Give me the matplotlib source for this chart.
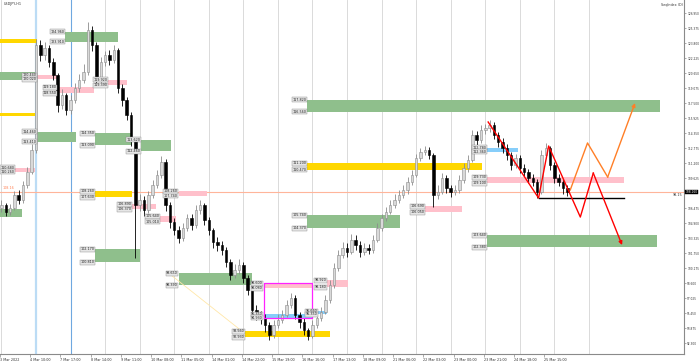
import matplotlib
matplotlib.use("Agg")
import matplotlib.pyplot as plt
from matplotlib.transforms import blended_transform_factory

# ---------------- data ----------------
title = "USDJPY,H1"
indicator_label = "SeqIndex (D)"

# one candle drawn per 3 hourly bars (bar index = 3*k + 1)
first_open = 106.50
close = [106.79, 106.05, 106.48, 107.84, 107.32, 108.89, 110.26, 112.57, 123.59, 122.54,
         123.28, 121.81, 120.44, 117.29, 118.34, 116.77, 117.82, 119.08, 119.92, 120.76,
         125.17, 123.59, 119.92, 121.81, 122.54, 122.02, 123.07, 119.08, 117.82, 116.24,
         113.62, 106.79, 107.32, 106.27, 107.84, 108.89, 109.94, 111.31, 106.79, 105.01,
         104.17, 103.33, 104.38, 105.43, 104.69, 106.27, 106.79, 105.22, 104.17, 102.91,
         102.59, 102.07, 100.81, 99.44, 99.97, 100.49, 99.13, 97.87, 95.77, 95.24,
         94.93, 94.19, 93.14, 94.19, 94.72, 95.24, 96.29, 97.03, 95.24, 94.50,
         93.67, 93.04, 94.19, 94.93, 95.56, 96.82, 98.39, 100.18, 101.54, 102.27,
         101.85, 103.12, 102.59, 101.85, 102.27, 102.07, 103.12, 104.38, 105.43, 106.05,
         106.79, 107.32, 107.84, 108.37, 109.21, 109.94, 111.73, 112.36, 112.57, 112.04,
         107.84, 108.16, 109.63, 108.58, 108.16, 108.37, 109.42, 110.68, 111.52, 114.14,
         113.62, 114.67, 114.88, 115.19, 114.14, 113.41, 112.78, 112.04, 111.00, 111.73,
         110.68, 110.26, 109.63, 109.21, 108.16, 112.04, 112.78, 111.00, 109.63, 109.21,
         108.58, 108.16]
high = [107.3, 107.0, 106.9, 108.3, 108.4, 109.3, 110.8, 113.2, 124.2, 124.1,
        123.9, 123.6, 122.2, 120.7, 119.0, 118.6, 118.3, 119.6, 120.5, 121.6,
        126.0, 125.6, 123.9, 122.3, 123.0, 123.1, 123.6, 123.3, 119.5, 118.1,
        116.6, 113.9, 107.9, 107.7, 108.3, 109.4, 110.5, 111.9, 111.6, 107.1,
        105.4, 104.6, 104.9, 105.9, 105.8, 106.8, 107.3, 107.0, 105.5, 104.4,
        103.4, 103.0, 102.4, 101.1, 100.6, 101.1, 100.8, 99.4, 98.2, 96.3,
        95.7, 95.3, 94.5, 94.7, 95.3, 95.8, 96.8, 97.6, 97.3, 95.6,
        94.9, 93.9, 94.7, 95.4, 96.1, 97.3, 98.9, 100.7, 102.1, 102.9,
        102.8, 103.7, 103.6, 103.0, 102.8, 102.7, 103.6, 104.9, 105.9, 106.6,
        107.3, 107.9, 108.4, 108.9, 109.7, 110.5, 112.2, 112.8, 113.0, 112.9,
        112.3, 108.9, 110.2, 109.9, 108.9, 108.9, 109.9, 111.2, 112.0, 114.7,
        114.6, 115.2, 115.3, 115.7, 115.5, 114.5, 113.8, 113.2, 112.4, 112.2,
        112.0, 111.1, 110.6, 110.1, 109.5, 112.6, 113.3, 113.0, 111.3, 110.0,
        109.5, 108.9]
low = [106.1, 105.6, 105.7, 106.3, 106.9, 107.0, 108.6, 110.0, 112.3, 121.9,
       122.0, 121.3, 119.9, 116.6, 116.9, 116.2, 116.4, 117.5, 118.7, 119.6,
       120.4, 123.0, 119.3, 119.6, 121.4, 121.5, 121.7, 118.6, 117.2, 115.7,
       113.0, 101.2, 106.2, 105.6, 106.0, 107.5, 108.6, 109.6, 106.2, 104.4,
       103.6, 102.8, 103.0, 104.1, 104.2, 104.4, 105.9, 104.7, 103.6, 102.3,
       102.0, 101.5, 100.3, 98.9, 99.1, 99.6, 98.6, 97.3, 95.2, 94.7,
       94.3, 93.5, 92.6, 92.8, 93.9, 94.4, 95.0, 96.0, 94.8, 93.9,
       93.1, 92.6, 92.8, 93.9, 94.6, 95.3, 96.5, 98.1, 99.9, 101.2,
       101.3, 101.6, 102.1, 101.3, 101.5, 101.6, 101.8, 102.9, 104.1, 105.1,
       105.8, 106.5, 107.0, 107.5, 108.0, 108.9, 109.7, 111.4, 112.0, 111.6,
       106.6, 107.4, 107.9, 108.1, 107.6, 107.8, 108.1, 109.1, 110.3, 111.3,
       113.1, 113.3, 114.3, 114.5, 113.7, 112.9, 112.3, 111.5, 110.5, 110.7,
       110.2, 109.8, 109.1, 108.8, 107.5, 107.9, 111.7, 110.5, 109.1, 108.8,
       108.0, 107.7]

date_labels = ["3 Mar 2022", "4 Mar 10:00", "7 Mar 17:00", "8 Mar 14:00", "9 Mar 11:00",
               "10 Mar 08:00", "11 Mar 05:00", "14 Mar 01:00", "14 Mar 22:00", "15 Mar 19:00",
               "16 Mar 16:00", "17 Mar 13:00", "18 Mar 09:00", "21 Mar 06:00", "22 Mar 03:00",
               "23 Mar 00:00", "23 Mar 21:00", "24 Mar 18:00", "25 Mar 15:00"]

ytick_values = [92.300, 93.875, 95.450, 97.025, 98.600, 100.175, 101.750, 103.325,
                104.900, 106.475, 109.625, 111.200, 112.775, 114.350, 115.925,
                117.500, 119.075, 120.650, 122.225, 123.800, 125.375, 126.950]
current_price = 108.16

# zones: start bar, end bar, upper price, lower price, kind, labelled
zone_x0 = [0, 45, 0, 26, 40, 75, 0, 26, 66, 98, 66, 92, 111, 124, 66, 124, 183, 183,
           170, 221, 227, 213, 213, 213, 295, 338, 338, 338, 0, 7]
zone_x1 = [26, 82, 24, 40, 65, 88, 24, 53, 92, 119, 92, 108, 122, 144, 97, 175, 217, 217,
           229, 227, 242, 458, 335, 278, 321, 360, 433, 456, 15, 24]
zone_hi = [124.22, 124.96, 120.76, 120.44, 119.18, 119.92, 116.45, 114.46, 114.35, 113.62,
           108.26, 106.89, 105.64, 108.26, 102.17, 99.65, 98.60, 95.35, 93.56, 95.66,
           98.92, 117.82, 111.20, 105.74, 106.69, 112.78, 109.73, 103.64, 106.37, 110.68]
zone_lo = [123.80, 123.91, 119.92, 120.02, 118.55, 119.39, 116.14, 113.41, 113.09, 112.46,
           107.63, 106.37, 105.01, 107.74, 100.81, 98.39, 98.08, 94.93, 92.93, 95.35,
           98.18, 116.56, 110.47, 104.37, 106.05, 112.36, 109.10, 102.38, 105.53, 110.26]
zone_kind = ["Y", "G", "G", "P", "P", "P", "Y", "G", "G", "G", "Y", "P", "P", "P", "G",
             "G", "P", "B", "Y", "B", "P", "G", "Y", "G", "P", "B", "P", "G", "G", "P"]
zone_labelled = [0, 1, 0, 1, 1, 1, 0, 1, 1, 1, 1, 1, 1, 1, 1, 1, 1, 1, 1, 1, 1, 1, 1, 1,
                 1, 1, 1, 1, 0, 1]

# magenta box
box_x = [183, 217]
box_y = [94.93, 98.60]

# projected paths
red_x = [339, 374, 381, 403, 412, 432]
red_y = [115.51, 107.53, 112.99, 105.53, 110.15, 102.59]
orange_x = [396, 408, 422, 441]
orange_y = [108.37, 113.31, 109.73, 117.50]
neck_x = [374, 433]
neck_y = [107.53, 107.53]
faint_x = [117, 167]
faint_y = [99.65, 93.67]

# ---------------- drawing ----------------
zone_colors = {"Y": "#ffd700", "G": "#8fbf8c", "P": "#ffc0cb", "B": "#87cefa"}

fig = plt.figure(figsize=(7.0, 3.62), dpi=100)
ax = fig.add_axes([0.0, 8 / 362, 684 / 700, 354 / 362])
ax.set_xlim(0, 475)
ax.set_ylim(91.15, 128.32)
ax.set_facecolor("white")

# period separators
for i in range(18):
    xb = 1 + 24 * i
    if i == 1:
        ax.axvline(xb, color="#bcdcf5", lw=1.6, zorder=0.4)
    elif i == 2:
        ax.axvline(xb, color="#6fa8e0", lw=0.8, zorder=0.4)
    else:
        ax.axvline(xb, color="#d4d4d4", lw=0.6, zorder=0.4)

# current price line
ax.axhline(current_price, color="#ffb59a", lw=0.8, zorder=0.5)

# zones
fs = 2.4
for x0, x1, hi, lo, kd, lab in zip(zone_x0, zone_x1, zone_hi, zone_lo, zone_kind, zone_labelled):
    ax.fill_between([x0, x1], lo, hi, color=zone_colors[kd], lw=0, zorder=1)
    if lab:
        for v in (hi, lo):
            if x0 < 10:
                xt, ha = 0.6, "left"
            else:
                xt, ha = x0 - 0.5, "right"
            ax.text(xt, v, f"{v:.3f}", fontsize=fs, ha=ha, va="center",
                    color="#222222", zorder=6,
                    bbox=dict(boxstyle="square,pad=0.15", fc="#e6e6e6", ec="#8a8a8a", lw=0.3))

# faint diagonal
ax.plot(faint_x, faint_y, color="#ffe7a8", lw=0.6, zorder=1.5)

# magenta box
ax.plot([box_x[0], box_x[1], box_x[1], box_x[0], box_x[0]],
        [box_y[0], box_y[0], box_y[1], box_y[1], box_y[0]],
        color="#ff22ff", lw=0.9, zorder=4)

# candles
opens = [first_open] + close[:-1]
for k, (o, c, h, l) in enumerate(zip(opens, close, high, low)):
    xb = 3 * k + 1
    bull = c >= o
    col = "#8c8c8c" if bull else "#000000"
    ax.vlines(xb, l, h, color=col, lw=0.6, zorder=3)
    ax.bar(xb, max(abs(c - o), 0.08), bottom=min(o, c), width=1.7,
           color="#d9d9d9" if bull else "#000000", edgecolor=col, lw=0.4, zorder=3.1)

# projection lines
ax.plot(neck_x, neck_y, color="black", lw=1.0, zorder=4)
ax.plot(red_x[:-1], red_y[:-1], color="#ff0000", lw=1.0, zorder=4.5)
ax.annotate("", xy=(red_x[-1], red_y[-1]), xytext=(red_x[-2], red_y[-2]),
            arrowprops=dict(arrowstyle="-|>", color="#ff0000", lw=1.0, mutation_scale=5,
                            shrinkA=0, shrinkB=0), zorder=4.5)
ax.plot(orange_x[:-1], orange_y[:-1], color="#ff7f27", lw=1.0, zorder=4.5)
ax.annotate("", xy=(orange_x[-1], orange_y[-1]), xytext=(orange_x[-2], orange_y[-2]),
            arrowprops=dict(arrowstyle="-|>", color="#ff7f27", lw=1.0, mutation_scale=5,
                            shrinkA=0, shrinkB=0), zorder=4.5)

# axes styling
for s in ("top", "left"):
    ax.spines[s].set_visible(False)
for s in ("right", "bottom"):
    ax.spines[s].set_color("#8a8a8a")
    ax.spines[s].set_linewidth(0.8)

yfs = 2.1
ax.yaxis.tick_right()
ax.set_yticks(ytick_values)
ax.set_yticklabels([f"{v:.3f}" for v in ytick_values])
ax.tick_params(axis="y", labelsize=yfs, length=1.5, width=0.5, color="#8a8a8a", pad=0.8,
               labelcolor="#333333")
ax.set_xticks([21 * i for i in range(len(date_labels))])
ax.set_xticklabels(date_labels)
ax.tick_params(axis="x", labelsize=fs, length=2, width=0.5, color="#8a8a8a", pad=1.0,
               labelcolor="#333333")
for t in ax.get_xticklabels():
    t.set_ha("left")

# texts
ax.text(0.006, 0.994, title, transform=ax.transAxes, fontsize=fs, va="top", ha="left",
        color="#333333")
fig.text(683 / 700, 1 - 3 / 362, indicator_label, fontsize=fs, va="top", ha="right",
         color="#333333")
ax.text(2, current_price + 0.45, f"{current_price:.2f}", fontsize=fs, color="#ff7f50",
        ha="left", va="center")
blend = blended_transform_factory(ax.transAxes, ax.transData)
ax.text(0.998, current_price - 0.35, "98.15", transform=blend,
        fontsize=fs, ha="right", va="center", color="#333333")
ax.text(1.002, current_price, f"{current_price:.3f}", transform=blend,
        fontsize=yfs, ha="left", va="center", color="white", clip_on=False,
        bbox=dict(boxstyle="square,pad=0.15", fc="black", ec="black", lw=0.3))

fig.savefig("out.png", dpi=100, facecolor="white")
